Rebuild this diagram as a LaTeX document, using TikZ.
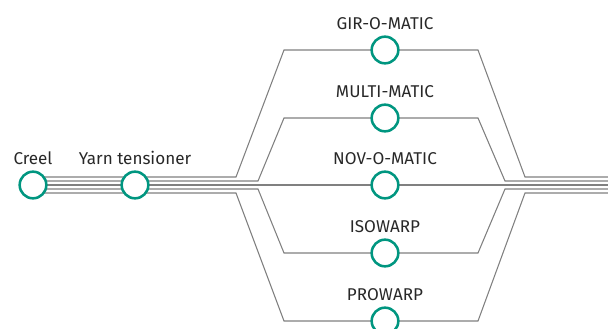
\documentclass[tikz,border=0pt]{standalone}
\usepackage{fontspec}
\setmainfont{Fira Sans}
\usepackage{tikz}
\usetikzlibrary{positioning,backgrounds}
\definecolor{machine}{RGB}{0,150,128}
\definecolor{yarn}{RGB}{128,128,128}
\definecolor{caption}{RGB}{40,40,40}

\begin{document}
\begin{tikzpicture}[
    x=0.75pt, y=-0.75pt,
    station/.style={draw=machine, line width=1.9pt, circle, fill=white, minimum size=20pt, inner sep=0pt},
    tag/.style={font=\fontsize{12.8}{15}\selectfont, text=caption, inner sep=0pt, text depth=0pt},
    wire/.style={draw=yarn, line width=0.8pt}
]
\useasboundingbox (0,0) rectangle (608,329);

% Stations
\node[station] (creel) at (33,185) {};
\node[station] (tens) at (135,185) {};
\node[station] (gir) at (385,50) {};
\node[station] (multi) at (385,118) {};
\node[station] (nov) at (385,185) {};
\node[station] (iso) at (385,253) {};
\node[station] (pro) at (385,321) {};

% Labels
\node[tag, above=4.6pt of creel] (creeltag) {Creel};
\node[tag, above=4.6pt of tens] (tenstag) {Yarn tensioner};
\node[tag, above=4.6pt of gir] (girtag) {GIR-O-MATIC};
\node[tag, above=4.6pt of multi] (multitag) {MULTI-MATIC};
\node[tag, above=4.6pt of nov] (novtag) {NOV-O-MATIC};
\node[tag, above=4.6pt of iso] (isotag) {ISOWARP};
\node[tag, above=4.6pt of pro] (protag) {PROWARP};

% Yarn ends
\coordinate (out1) at (608,177);
\coordinate (out2) at (608,181);
\coordinate (out3) at (608,185);
\coordinate (out4) at (608,189);
\coordinate (out5) at (608,193);

% Yarn paths
\begin{scope}[on background layer]
\draw[wire] (creel) ++(0,-8) -- (236,177) -- (284,50) -- (gir.center) -- (478,50) -- (525,177) -- (out1);
\draw[wire] (creel) ++(0,-4) -- (258,181) -- (284,118) -- (multi.center) -- (478,118) -- (505,181) -- (out2);
\draw[wire] (creel.center) -- (tens.center) -- (nov.center) -- (out3);
\draw[wire] (creel) ++(0,4) -- (258,189) -- (284,253) -- (iso.center) -- (478,253) -- (505,189) -- (out4);
\draw[wire] (creel) ++(0,8) -- (236,193) -- (284,321) -- (pro.center) -- (478,321) -- (525,193) -- (out5);
\end{scope}

\end{tikzpicture}
\end{document}
